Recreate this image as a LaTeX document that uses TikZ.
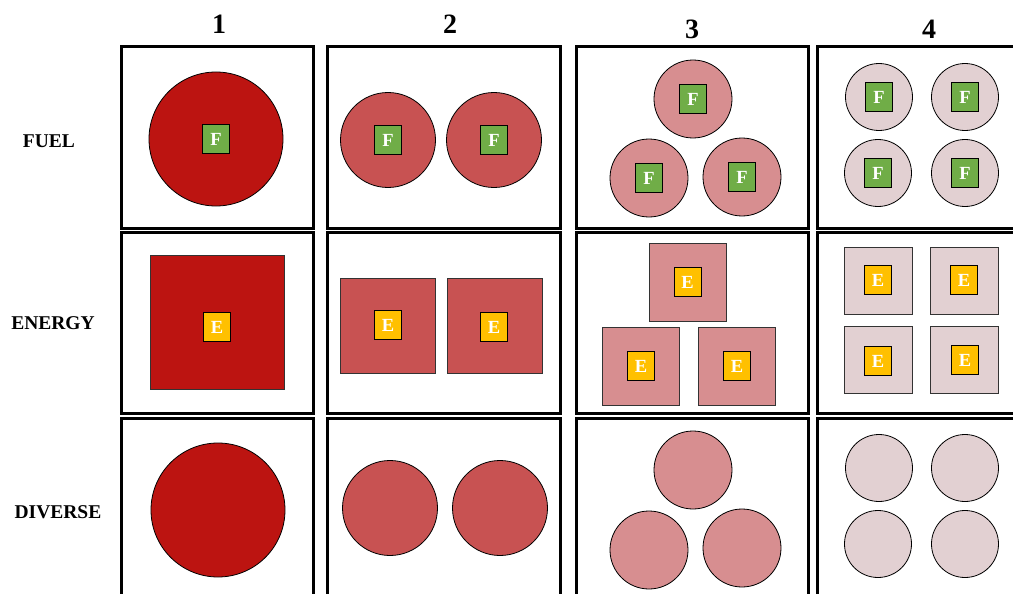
\documentclass[tikz,border=0pt]{standalone}
\usepackage{fontspec}
\setmainfont{Liberation Serif}
\definecolor{redA}{RGB}{188,20,17}
\definecolor{redB}{RGB}{200,82,82}
\definecolor{redC}{RGB}{215,142,144}
\definecolor{redD}{RGB}{226,208,210}
\definecolor{fgreen}{RGB}{112,173,71}
\definecolor{eyellow}{RGB}{255,192,0}
\tikzset{
  framebox/.style={draw=black, line width=3pt, inner sep=0pt, fill=none},
  disk/.style={circle, draw=black, line width=0.8pt, inner sep=0pt, minimum size=#1},
  blk/.style={rectangle, draw=black!80, line width=0.8pt, inner sep=0pt},
  fbox/.style={rectangle, draw=black, line width=0.8pt, fill=fgreen, inner sep=0pt,
    minimum width=27pt, minimum height=29pt, text=white, font=\fontsize{18.5}{18.5}\selectfont\bfseries},
  ebox/.style={rectangle, draw=black, line width=0.8pt, fill=eyellow, inner sep=0pt,
    minimum width=27pt, minimum height=29pt, text=white, font=\fontsize{18.5}{18.5}\selectfont\bfseries},
  hdr/.style={font=\fontsize{28}{28}\selectfont\bfseries, inner sep=0pt},
  rowlbl/.style={font=\fontsize{19.5}{19.5}\selectfont\bfseries, inner sep=0pt}
}
\begin{document}
\begin{tikzpicture}[x=1pt,y=-1pt]
\useasboundingbox (0,0) rectangle (1013,594);
\clip (0,0) rectangle (1013,594);
\fill[white] (0,0) rectangle (1013,594);

% headings
\node[hdr] (h1) at (219,24) {1};
\node[hdr] (h2) at (450,24) {2};
\node[hdr] (h3) at (692,29) {3};
\node[hdr] (h4) at (929,29) {4};

% row labels
\node[rowlbl] (lfuel) at (49,141) {FUEL};
\node[rowlbl] (lenergy) at (53,323) {ENERGY};
\node[rowlbl] (ldiverse) at (58,512) {DIVERSE};

% frames
\node[framebox, minimum width=192pt, minimum height=181pt] (p11) at (217,137.5) {};
\node[framebox, minimum width=233pt, minimum height=181pt] (p12) at (443.5,137.5) {};
\node[framebox, minimum width=232pt, minimum height=181pt] (p13) at (692,137.5) {};
\node[framebox, minimum width=232pt, minimum height=181pt] (p14) at (933,137.5) {};
\node[framebox, minimum width=192pt, minimum height=181pt] (p21) at (217,322.5) {};
\node[framebox, minimum width=233pt, minimum height=181pt] (p22) at (443.5,322.5) {};
\node[framebox, minimum width=232pt, minimum height=181pt] (p23) at (692,322.5) {};
\node[framebox, minimum width=232pt, minimum height=181pt] (p24) at (933,322.5) {};
\node[framebox, minimum width=192pt, minimum height=181pt] (p31) at (217,508.5) {};
\node[framebox, minimum width=233pt, minimum height=181pt] (p32) at (443.5,508.5) {};
\node[framebox, minimum width=232pt, minimum height=181pt] (p33) at (692,508.5) {};
\node[framebox, minimum width=232pt, minimum height=181pt] (p34) at (933,508.5) {};

% ---------- FUEL row ----------
\node[disk=134pt, fill=redA] (fa1) at (216,139) {};
\node[fbox] (fa1l) at (fa1.center) {F};

\node[disk=95pt, fill=redB] (fb1) at (388,140) {};
\node[disk=95pt, fill=redB] (fb2) at (494,140) {};
\node[fbox] (fb1l) at (fb1.center) {F};
\node[fbox] (fb2l) at (fb2.center) {F};

\node[disk=78pt, fill=redC] (fc1) at (693,99) {};
\node[disk=78pt, fill=redC] (fc2) at (649,178) {};
\node[disk=78pt, fill=redC] (fc3) at (742,177) {};
\node[fbox] (fc1l) at (fc1.center) {F};
\node[fbox] (fc2l) at (fc2.center) {F};
\node[fbox] (fc3l) at (fc3.center) {F};

\node[disk=67pt, fill=redD] (fd1) at (879,97) {};
\node[disk=67pt, fill=redD] (fd2) at (965,97) {};
\node[disk=67pt, fill=redD] (fd3) at (878,173) {};
\node[disk=67pt, fill=redD] (fd4) at (965,173) {};
\node[fbox] (fd1l) at (fd1.center) {F};
\node[fbox] (fd2l) at (fd2.center) {F};
\node[fbox] (fd3l) at (fd3.center) {F};
\node[fbox] (fd4l) at (fd4.center) {F};

% ---------- ENERGY row ----------
\node[blk, fill=redA, minimum width=134pt, minimum height=134pt] (ea1) at (217,322) {};
\node[ebox] (ea1l) at (217,327) {E};

\node[blk, fill=redB, minimum width=95pt, minimum height=95pt] (eb1) at (387.5,325.5) {};
\node[blk, fill=redB, minimum width=95pt, minimum height=95pt] (eb2) at (494.5,325.5) {};
\node[ebox] (eb1l) at (388,325) {E};
\node[ebox] (eb2l) at (494,327) {E};

\node[blk, fill=redC, minimum width=77pt, minimum height=78pt] (ec1) at (687.5,282) {};
\node[blk, fill=redC, minimum width=77pt, minimum height=78pt] (ec2) at (641,366) {};
\node[blk, fill=redC, minimum width=77pt, minimum height=78pt] (ec3) at (737,366) {};
\node[ebox] (ec1l) at (ec1.center) {E};
\node[ebox] (ec2l) at (ec2.center) {E};
\node[ebox] (ec3l) at (ec3.center) {E};

\node[blk, fill=redD, minimum width=68pt, minimum height=67pt] (ed1) at (878,280.5) {};
\node[blk, fill=redD, minimum width=68pt, minimum height=67pt] (ed2) at (964,280.5) {};
\node[blk, fill=redD, minimum width=68pt, minimum height=67pt] (ed3) at (878,359.5) {};
\node[blk, fill=redD, minimum width=68pt, minimum height=67pt] (ed4) at (964,359.5) {};
\node[ebox] (ed1l) at (878,280) {E};
\node[ebox] (ed2l) at (964,280) {E};
\node[ebox] (ed3l) at (878,361) {E};
\node[ebox] (ed4l) at (965,360) {E};

% ---------- DIVERSE row ----------
\node[disk=134pt, fill=redA] (da1) at (218,510) {};

\node[disk=95pt, fill=redB] (db1) at (390,508) {};
\node[disk=95pt, fill=redB] (db2) at (500,508) {};

\node[disk=78pt, fill=redC] (dc1) at (693,470) {};
\node[disk=78pt, fill=redC] (dc2) at (649,550) {};
\node[disk=78pt, fill=redC] (dc3) at (742,548) {};

\node[disk=67pt, fill=redD] (dd1) at (879,468) {};
\node[disk=67pt, fill=redD] (dd2) at (965,468) {};
\node[disk=67pt, fill=redD] (dd3) at (878,544) {};
\node[disk=67pt, fill=redD] (dd4) at (965,544) {};
\end{tikzpicture}
\end{document}
